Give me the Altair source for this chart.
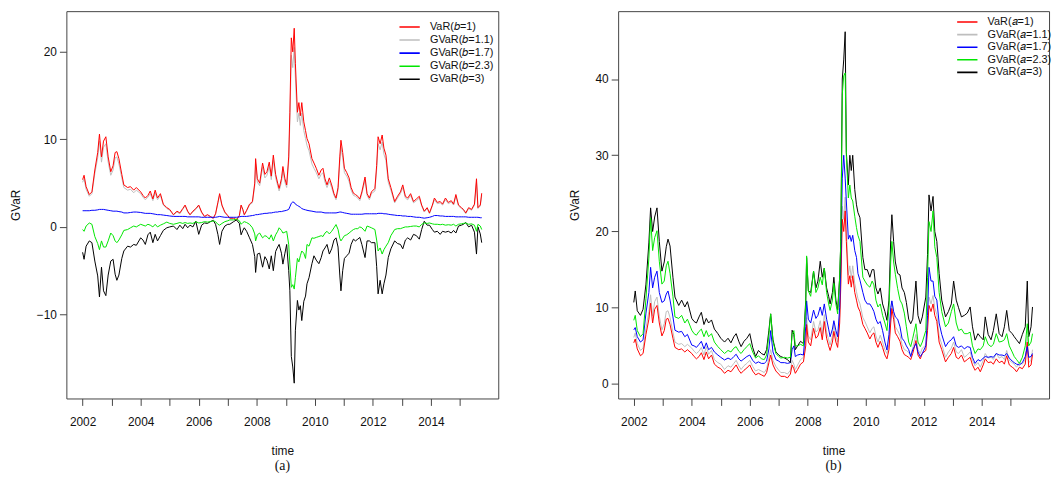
import altair as alt
import pandas as pd

# Observation dates (decimal years), shared by both panels
dates = [
    2002.00, 2002.05, 2002.12, 2002.23, 2002.32, 2002.42, 2002.52, 2002.58, 2002.65, 2002.72,
    2002.80, 2002.88, 2002.97, 2003.05, 2003.12, 2003.18, 2003.25, 2003.35, 2003.42, 2003.55,
    2003.65, 2003.76, 2003.85, 2004.00, 2004.08, 2004.16, 2004.25, 2004.33, 2004.42, 2004.50,
    2004.58, 2004.68, 2004.78, 2004.90, 2005.00, 2005.13, 2005.25, 2005.35, 2005.45, 2005.53,
    2005.62, 2005.70, 2005.80, 2005.90, 2006.00, 2006.10, 2006.20, 2006.30, 2006.40, 2006.50,
    2006.58, 2006.66, 2006.72, 2006.80, 2006.90, 2007.00, 2007.07, 2007.20, 2007.30, 2007.40,
    2007.46, 2007.52, 2007.57, 2007.65, 2007.75, 2007.85, 2007.93, 2007.96, 2008.02, 2008.10,
    2008.20, 2008.28, 2008.35, 2008.43, 2008.50, 2008.57, 2008.65, 2008.72, 2008.77, 2008.85,
    2008.90, 2008.97, 2009.03, 2009.10, 2009.14, 2009.19, 2009.24, 2009.29, 2009.33, 2009.40,
    2009.45, 2009.50, 2009.55, 2009.62, 2009.68, 2009.73, 2009.80, 2009.90, 2009.97, 2010.05,
    2010.14, 2010.22, 2010.28, 2010.35, 2010.42, 2010.50, 2010.58, 2010.66, 2010.73, 2010.80,
    2010.86, 2010.90, 2010.96, 2011.02, 2011.10, 2011.18, 2011.25, 2011.33, 2011.40, 2011.48,
    2011.55, 2011.62, 2011.73, 2011.80, 2011.88, 2011.95, 2012.07, 2012.13, 2012.18, 2012.25,
    2012.32, 2012.38, 2012.45, 2012.53, 2012.62, 2012.75, 2012.85, 2012.95, 2013.03, 2013.12,
    2013.20, 2013.30, 2013.40, 2013.50, 2013.60, 2013.68, 2013.77, 2013.87, 2013.95, 2014.05,
    2014.12, 2014.22, 2014.32, 2014.40, 2014.50, 2014.60, 2014.70, 2014.78, 2014.86, 2014.95,
    2015.05, 2015.12, 2015.20, 2015.30, 2015.40, 2015.50, 2015.57, 2015.62, 2015.70, 2015.75,
]

# Plain VaR (parameter = 1), common to both panels
var_1 = [
    5.4, 5.9, 4.6, 3.7, 4.0, 6.5, 8.5, 10.6, 8.0, 9.8,
    10.3, 8.0, 6.3, 7.0, 8.5, 8.6, 7.8, 6.0, 4.8, 4.5,
    4.6, 4.2, 4.5, 4.0, 3.6, 3.3, 3.6, 4.1, 3.2, 4.2,
    3.3, 3.8, 2.6, 2.2, 2.0, 1.4, 1.8, 1.6, 2.1, 2.5,
    1.8, 1.4, 1.8, 2.1, 2.5, 1.7, 1.2, 1.4, 1.2, 1.0,
    1.5, 2.8, 3.8, 2.5, 1.7, 1.3, 1.0, 1.0, 0.8, 1.3,
    2.5, 2.0, 1.4, 1.9, 2.6, 2.9, 5.0, 7.8, 5.5, 5.0,
    7.3, 6.0, 6.3, 7.4, 5.8, 8.2, 6.0, 5.0, 4.4, 5.5,
    6.9, 5.5, 4.8, 8.0, 13.1, 21.6, 20.0, 22.7, 18.7, 13.1,
    14.2, 12.7, 14.2, 12.0, 11.0, 10.1, 9.5, 7.8, 7.3, 6.7,
    5.9, 6.5, 6.7, 5.5, 4.8, 5.6, 4.8, 3.8, 3.3, 4.5,
    8.0, 9.9, 8.5, 6.7, 6.2, 5.6, 4.5, 3.85, 3.7, 3.5,
    3.2, 4.0, 5.7, 3.8, 3.3, 4.0, 4.4, 7.0, 10.3, 9.5,
    10.5, 9.0, 8.2, 5.5, 4.5, 2.9, 3.5, 4.0, 4.8, 3.5,
    3.3, 3.8, 2.9, 3.2, 3.5, 2.5, 1.8, 2.2, 1.6, 2.5,
    3.3, 2.8, 2.9, 2.6, 3.3, 2.8, 3.0, 2.6, 3.7, 2.5,
    2.2, 2.0, 1.6, 2.2, 2.0, 2.6, 5.5, 2.2, 2.5, 3.85,
]

# Panel (a): GVaR for b = 1.1, 1.7, 2.3, 3
gvar_b11 = [
    5.1, 5.5, 4.3, 3.5, 3.8, 6.1, 7.9, 9.8, 7.4, 9.1,
    9.5, 7.4, 5.9, 6.5, 7.9, 8.0, 7.2, 5.6, 4.5, 4.2,
    4.3, 3.9, 4.2, 3.8, 3.4, 3.1, 3.4, 3.8, 3.0, 3.9,
    3.1, 3.6, 2.5, 2.1, 1.9, 1.35, 1.7, 1.5, 2.0, 2.4,
    1.7, 1.35, 1.7, 2.0, 2.4, 1.6, 1.15, 1.35, 1.15, 0.95,
    1.45, 2.7, 3.6, 2.4, 1.6, 1.25, 0.95, 0.95, 0.75, 1.25,
    2.4, 1.9, 1.35, 1.8, 2.5, 2.75, 4.7, 7.2, 5.1, 4.7,
    6.8, 5.6, 5.9, 6.9, 5.4, 7.6, 5.6, 4.7, 4.1, 5.1,
    6.4, 5.1, 4.5, 7.4, 12.0, 19.6, 18.2, 20.5, 17.0, 12.0,
    13.0, 11.6, 13.0, 11.0, 10.1, 9.3, 8.7, 7.2, 6.7, 6.2,
    5.5, 6.0, 6.2, 5.1, 4.5, 5.2, 4.5, 3.6, 3.1, 4.2,
    7.4, 9.1, 7.9, 6.2, 5.8, 5.2, 4.2, 3.6, 3.5, 3.3,
    3.0, 3.8, 5.3, 3.6, 3.1, 3.8, 4.1, 6.5, 9.5, 8.8,
    9.7, 8.3, 7.6, 5.1, 4.2, 2.75, 3.3, 3.8, 4.5, 3.3,
    3.1, 3.6, 2.75, 3.0, 3.3, 2.4, 1.7, 2.1, 1.5, 2.4,
    3.1, 2.65, 2.75, 2.5, 3.1, 2.65, 2.85, 2.5, 3.5, 2.4,
    2.1, 1.9, 1.5, 2.1, 1.9, 2.5, 5.1, 2.1, 2.4, 3.6,
]
gvar_b17 = [
    1.85, 1.85, 1.85, 1.85, 1.9, 1.9, 1.95, 2.0, 2.0, 2.0,
    1.95, 1.9, 1.85, 1.8, 1.8, 1.8, 1.75, 1.7, 1.6, 1.6,
    1.65, 1.7, 1.7, 1.65, 1.6, 1.55, 1.55, 1.55, 1.5, 1.45,
    1.4, 1.4, 1.35, 1.3, 1.25, 1.2, 1.2, 1.2, 1.2, 1.2,
    1.15, 1.15, 1.15, 1.15, 1.15, 1.1, 1.1, 1.1, 1.1, 1.1,
    1.1, 1.15, 1.2, 1.15, 1.1, 1.1, 1.1, 1.1, 1.1, 1.15,
    1.2, 1.2, 1.2, 1.2, 1.25, 1.3, 1.35, 1.4, 1.4, 1.45,
    1.5, 1.55, 1.55, 1.6, 1.6, 1.65, 1.7, 1.7, 1.75, 1.75,
    1.8, 1.85, 1.9, 2.0, 2.3, 2.7, 2.85, 2.8, 2.6, 2.45,
    2.35, 2.25, 2.1, 2.0, 1.95, 1.9, 1.85, 1.8, 1.75, 1.7,
    1.7, 1.7, 1.65, 1.6, 1.6, 1.6, 1.6, 1.6, 1.6, 1.65,
    1.7, 1.7, 1.65, 1.6, 1.55, 1.5, 1.45, 1.45, 1.45, 1.45,
    1.45, 1.45, 1.5, 1.5, 1.5, 1.5, 1.5, 1.5, 1.55, 1.55,
    1.55, 1.5, 1.5, 1.45, 1.4, 1.35, 1.3, 1.3, 1.25, 1.25,
    1.2, 1.2, 1.15, 1.1, 1.1, 1.05, 1.0, 1.05, 1.1, 1.2,
    1.3, 1.3, 1.25, 1.25, 1.2, 1.2, 1.2, 1.2, 1.15, 1.15,
    1.15, 1.15, 1.15, 1.1, 1.1, 1.1, 1.1, 1.1, 1.05, 1.05,
]
gvar_b23 = [
    -0.3, -0.5, 0.1, 0.45, 0.3, -1.1, -1.9, -2.6, -1.6, -2.3,
    -2.3, -1.6, -0.7, -1.0, -1.6, -1.8, -1.5, -0.9, -0.4, -0.3,
    -0.1, 0.1, 0.0, 0.3, 0.2, 0.1, 0.3, 0.2, 0.0, 0.3,
    0.0, 0.2, 0.35, 0.55, 0.4, 0.3, 0.4, 0.5, 0.4, 0.5,
    0.4, 0.45, 0.4, 0.6, 0.45, 0.5, 0.6, 0.55, 0.6, 0.7,
    0.6, 0.3, 0.2, 0.4, 0.6, 0.7, 0.8, 0.8, 0.9, 0.7,
    0.3, 0.5, 0.6, 0.5, 0.3, -0.1, -0.8, -1.6, -0.9, -0.7,
    -1.25, -1.0, -1.1, -1.4, -0.9, -1.6, -0.9, -0.5, -0.1, -0.4,
    -0.7, -0.6, -0.5, -2.0, -4.25, -6.9, -6.6, -7.1, -5.8, -3.6,
    -4.0, -3.3, -2.75, -3.0, -3.6, -2.0, -2.2, -1.25, -1.3, -1.2,
    -1.1, -1.0, -1.1, -0.7, -0.5, -0.8, -0.5, -0.1, 0.27, -0.3,
    -1.3, -1.6, -1.3, -1.0, -0.9, -0.7, -0.5, -0.3, -0.2, -0.2,
    0.0, -0.1, -0.5, 0.1, 0.0, -0.1, -0.3, -1.5, -2.75, -2.4,
    -3.1, -2.6, -2.2, -1.8, -1.0, -0.3, -0.2, -0.2, -0.1, 0.0,
    0.0, 0.05, 0.1, 0.1, 0.0, 0.3, 0.45, 0.4, 0.45, 0.35,
    0.3, 0.3, 0.25, 0.3, 0.2, 0.25, 0.2, 0.3, 0.1, 0.3,
    0.35, 0.4, 0.45, 0.3, 0.35, 0.2, -0.5, 0.3, 0.1, -0.3,
]
gvar_b3 = [
    -2.9, -3.7, -2.2, -1.6, -1.8, -3.9, -5.6, -8.0, -4.6, -7.3,
    -7.85, -5.5, -3.9, -3.7, -5.4, -6.1, -5.5, -3.6, -2.75, -2.2,
    -2.3, -2.0, -2.1, -1.25, -1.5, -2.0, -0.9, -0.6, -1.8, -0.85,
    -1.6, -1.0, -0.4, -0.1, 0.0, 0.1, -0.3, 0.2, -0.2, 0.3,
    -0.1, 0.2, 0.0, 0.65, -0.85, 0.2, 0.45, 0.4, 0.6, 0.75,
    0.3, -0.85, -2.0, -0.5, 0.1, 0.3, 0.3, 0.6, 0.8, 0.4,
    -0.9, -0.4, -0.1, -0.5, -1.25, -2.0, -3.4, -5.2, -3.1, -3.0,
    -4.6, -3.4, -3.8, -4.8, -3.3, -5.0, -2.8, -2.3, -2.0, -3.0,
    -4.25, -3.0, -2.0, -5.0, -7.3, -14.8, -16.0, -17.85, -11.8, -8.4,
    -9.5, -9.0, -10.7, -8.5, -7.9, -6.5, -5.8, -4.2, -3.3, -3.8,
    -4.2, -3.5, -2.75, -2.4, -2.0, -3.1, -2.5, -1.5, -1.25, -2.3,
    -5.5, -7.3, -5.0, -3.6, -3.3, -3.0, -2.0, -1.4, -1.6, -1.4,
    -1.2, -2.0, -3.5, -1.6, -1.6, -1.8, -1.8, -4.5, -7.65, -6.1,
    -7.65, -6.5, -5.5, -3.5, -2.5, -1.6, -1.9, -2.0, -2.5, -1.5,
    -1.25, -1.5, -0.85, -1.0, -1.4, -0.3, 0.65, 0.2, 0.2, -0.3,
    -0.6, -0.5, -0.85, -0.5, -0.6, -0.5, -0.7, -0.4, -0.7, 0.1,
    0.2, 0.3, 0.5, 0.0, 0.2, -0.6, -3.1, 0.0, -0.8, -1.8,
]

# Panel (b): GVaR for a = 1.1, 1.7, 2.3, 3
gvar_a11 = [
    6.1, 6.7, 5.3, 4.4, 4.7, 7.3, 9.5, 11.7, 8.9, 10.8,
    11.4, 8.9, 7.1, 7.9, 9.5, 9.6, 8.7, 6.8, 5.5, 5.2,
    5.3, 4.9, 5.2, 4.7, 4.3, 4.0, 4.3, 4.8, 3.8, 4.9,
    3.9, 4.4, 3.2, 2.8, 2.6, 1.9, 2.4, 2.2, 2.7, 3.1,
    2.4, 1.9, 2.4, 2.7, 3.1, 2.3, 1.7, 1.9, 1.7, 1.5,
    2.0, 3.4, 4.5, 3.1, 2.3, 1.8, 1.5, 1.5, 1.3, 1.8,
    3.1, 2.6, 1.9, 2.5, 3.2, 3.5, 5.8, 8.7, 6.3, 5.8,
    8.2, 6.8, 7.1, 8.3, 6.6, 9.1, 6.8, 5.8, 5.1, 6.3,
    7.8, 6.3, 5.5, 8.9, 14.3, 23.3, 21.6, 24.5, 20.3, 14.3,
    15.5, 13.9, 15.5, 13.2, 12.1, 11.2, 10.5, 8.7, 8.2, 7.5,
    6.7, 7.3, 7.5, 6.3, 5.5, 6.4, 5.5, 4.5, 4.0, 5.2,
    8.9, 10.9, 9.5, 7.5, 7.0, 6.4, 5.2, 4.5, 4.4, 4.1,
    3.8, 4.7, 6.5, 4.5, 4.0, 4.7, 5.1, 7.9, 11.4, 10.5,
    11.6, 10.0, 9.1, 6.3, 5.2, 3.5, 4.2, 4.7, 5.5, 4.2,
    4.0, 4.5, 3.5, 3.8, 4.2, 3.1, 2.4, 2.8, 2.2, 3.1,
    4.0, 3.4, 3.5, 3.2, 4.0, 3.4, 3.6, 3.2, 4.4, 3.1,
    2.8, 2.6, 2.2, 2.8, 2.6, 3.2, 6.3, 2.8, 3.1, 4.5,
]
gvar_a17 = [
    7.1, 7.4, 6.2, 5.5, 5.8, 9.3, 12.0, 15.3, 12.6, 14.0,
    14.8, 12.0, 10.7, 10.9, 11.8, 12.2, 11.0, 8.8, 7.05, 6.8,
    6.9, 6.2, 6.5, 5.1, 5.0, 4.8, 5.2, 5.6, 4.6, 5.4,
    4.5, 4.8, 4.2, 3.8, 3.5, 3.15, 3.4, 3.2, 3.6, 3.9,
    3.3, 3.0, 3.3, 3.6, 3.8, 3.1, 2.7, 2.9, 2.7, 2.7,
    3.0, 4.6, 7.0, 4.2, 3.2, 3.0, 2.8, 2.8, 2.7, 2.8,
    4.5, 5.0, 3.6, 3.8, 3.9, 3.8, 7.5, 10.9, 8.5, 8.0,
    9.7, 8.6, 9.0, 10.1, 9.0, 10.5, 8.5, 7.2, 6.2, 7.2,
    8.3, 7.0, 6.2, 10.0, 16.0, 27.0, 30.0, 27.0, 24.0, 19.0,
    19.5, 18.7, 19.5, 17.5, 16.6, 14.5, 13.6, 12.0, 11.0, 10.5,
    10.5, 10.0, 9.5, 8.5, 7.9, 8.2, 7.0, 5.5, 4.45, 6.5,
    10.0, 10.9, 9.5, 8.8, 8.5, 7.5, 6.0, 5.6, 5.0, 4.5,
    3.6, 4.5, 5.3, 4.2, 3.6, 4.0, 5.0, 9.0, 15.3, 13.5,
    13.5, 11.5, 11.0, 8.0, 6.5, 4.9, 5.5, 5.8, 6.2, 5.0,
    4.8, 5.0, 4.6, 4.9, 4.8, 3.5, 2.7, 3.2, 3.0, 3.4,
    3.6, 3.5, 3.6, 3.5, 4.0, 3.8, 3.8, 3.7, 4.0, 3.4,
    3.0, 2.8, 2.6, 2.5, 2.8, 3.6, 4.9, 3.5, 3.6, 4.0,
]
gvar_a23 = [
    8.35, 9.0, 7.0, 6.2, 6.6, 11.2, 16.5, 21.8, 17.5, 19.2,
    20.1, 16.1, 13.1, 13.5, 15.5, 16.1, 14.5, 11.5, 8.8, 8.6,
    9.0, 8.0, 8.5, 7.05, 6.6, 6.4, 6.9, 7.2, 6.2, 7.0,
    6.2, 6.6, 5.5, 4.9, 4.5, 4.0, 4.4, 4.2, 4.7, 4.9,
    4.3, 4.0, 4.5, 4.9, 5.3, 4.2, 3.4, 3.7, 3.3, 3.2,
    3.8, 6.5, 9.2, 5.6, 4.0, 3.6, 3.4, 3.5, 3.4, 3.5,
    6.5, 7.0, 5.0, 5.0, 5.2, 5.0, 10.5, 16.8, 12.2, 11.5,
    14.8, 12.0, 12.6, 14.0, 13.0, 15.2, 12.0, 10.5, 9.65, 11.0,
    13.2, 10.5, 9.2, 14.0, 19.0, 38.0, 40.4, 40.8, 30.0, 24.4,
    26.1, 24.4, 24.0, 22.0, 20.5, 19.5, 18.7, 14.0, 13.5, 13.0,
    12.7, 13.5, 13.0, 11.0, 10.1, 10.5, 9.0, 8.0, 7.0, 10.0,
    16.0, 18.7, 16.0, 14.4, 12.5, 11.0, 10.5, 9.3, 7.5, 5.5,
    4.9, 6.0, 7.9, 5.5, 4.9, 5.5, 7.0, 14.0, 21.3, 20.0,
    22.7, 18.0, 16.6, 12.0, 9.5, 7.5, 8.0, 9.5, 10.5, 8.0,
    7.0, 7.2, 6.6, 6.6, 6.8, 5.0, 4.0, 4.6, 4.5, 5.0,
    6.2, 5.2, 4.9, 5.2, 6.6, 5.5, 5.6, 5.8, 6.6, 5.0,
    4.2, 3.6, 3.2, 2.7, 3.5, 5.0, 7.9, 5.0, 5.5, 6.6,
]
gvar_a3 = [
    10.7, 12.2, 9.6, 9.0, 9.8, 13.1, 18.5, 23.1, 20.0, 21.9,
    23.1, 18.7, 14.8, 16.0, 18.0, 19.0, 18.1, 14.0, 11.4, 10.3,
    11.0, 10.1, 10.8, 8.6, 8.2, 8.0, 8.8, 9.4, 7.8, 8.6,
    8.0, 8.4, 7.2, 6.6, 6.0, 5.5, 6.0, 5.4, 6.2, 6.6,
    5.6, 4.9, 5.6, 6.0, 6.6, 4.8, 3.6, 4.4, 4.0, 3.8,
    4.5, 7.05, 9.2, 5.8, 4.2, 3.8, 3.6, 3.4, 3.2, 2.8,
    7.05, 6.5, 4.5, 5.0, 5.6, 5.3, 11.0, 16.6, 12.2, 12.0,
    14.8, 12.6, 13.5, 16.1, 14.0, 15.2, 12.6, 11.5, 10.5, 12.0,
    14.0, 11.0, 9.7, 14.0, 18.7, 40.0, 42.5, 46.2, 30.4, 26.1,
    30.0, 28.0, 30.0, 25.5, 23.5, 22.5, 21.8, 16.6, 15.0, 15.0,
    14.0, 15.0, 15.0, 12.6, 11.8, 12.6, 10.5, 9.5, 8.35, 11.0,
    19.0, 22.2, 18.7, 16.0, 14.5, 14.3, 12.6, 12.0, 10.7, 8.5,
    7.9, 8.5, 13.5, 9.0, 7.9, 8.8, 11.4, 17.0, 24.8, 22.7,
    24.6, 20.0, 18.7, 14.5, 11.0, 8.8, 9.5, 10.5, 13.5, 11.0,
    10.0, 8.8, 9.0, 9.3, 10.1, 7.5, 5.75, 6.6, 6.2, 5.8,
    8.8, 6.5, 5.8, 7.0, 9.2, 6.6, 6.2, 7.5, 9.65, 7.0,
    6.6, 6.2, 5.8, 5.3, 6.5, 7.5, 13.5, 6.2, 7.5, 10.1,
]

COLORS = ["#ff0000", "#bebebe", "#0000ff", "#00e600", "#000000"]
FONT = "Liberation Sans"


def panel(names, series, draw_order, y_domain, y_ticks, x_domain, width,
          caption, legend_x, legend_y, row_padding):
    frame = pd.DataFrame({"time": dates})
    for name, values in zip(names, series):
        frame[name] = values
    long = frame.melt("time", var_name="series", value_name="GVaR")

    x = alt.X(
        "time:Q",
        scale=alt.Scale(domain=x_domain, nice=False, zero=False),
        axis=alt.Axis(
            values=list(range(2002, 2016)),
            labelExpr="datum.value % 2 == 0 ? format(datum.value, 'd') : ''",
            title="time",
            labelPadding=11,
            titlePadding=19,
        ),
    )
    y = alt.Y(
        "GVaR:Q",
        scale=alt.Scale(domain=y_domain, nice=False, zero=False),
        axis=alt.Axis(values=y_ticks, title="GVaR", labelPadding=3, titlePadding=14),
    )
    color = alt.Color(
        "series:N",
        scale=alt.Scale(domain=names, range=COLORS),
        legend=alt.Legend(
            title=None,
            orient="none",
            legendX=legend_x,
            legendY=legend_y,
            symbolType="stroke",
            symbolSize=420,
            symbolStrokeWidth=1.6,
            labelFont=FONT,
            labelFontSize=11,
            labelColor="#111",
            labelOffset=9,
            clipHeight=12,
            rowPadding=row_padding,
            padding=0,
        ),
    )
    layers = [
        alt.Chart(long)
        .transform_filter(alt.datum.series == name)
        .mark_line(strokeWidth=1)
        .encode(x=x, y=y, color=color)
        for name in draw_order
    ]
    return alt.layer(*layers).properties(
        width=width,
        height=391,
        title=alt.TitleParams(
            caption,
            orient="bottom",
            anchor="middle",
            frame="group",
            font="Liberation Serif",
            fontSize=14,
            fontWeight="normal",
            color="#111",
            offset=2,
        ),
    )


names_a = ["VaR(𝑏=1)", "GVaR(𝑏=1.1)", "GVaR(𝑏=1.7)", "GVaR(𝑏=2.3)", "GVaR(𝑏=3)"]
names_b = ["VaR(𝑎=1)", "GVaR(𝑎=1.1)", "GVaR(𝑎=1.7)", "GVaR(𝑎=2.3)", "GVaR(𝑎=3)"]

left = panel(
    names_a, [var_1, gvar_b11, gvar_b17, gvar_b23, gvar_b3],
    [names_a[1], names_a[0], names_a[2], names_a[4], names_a[3]],
    [-19.6, 24.65], [-10, 0, 10, 20], [2001.44, 2016.32], 436, "(a)", 335, 10, 1.2,
)
right = panel(
    names_b, [var_1, gvar_a11, gvar_a17, gvar_a23, gvar_a3],
    [names_b[1], names_b[0], names_b[2], names_b[4], names_b[3]],
    [-1.9, 48.9], [0, 10, 20, 30, 40], [2001.46, 2016.32], 435, "(b)", 341, 5, 0.7,
)

chart = (
    alt.hconcat(left, right, spacing=69)
    .resolve_scale(color="independent")
    .properties(padding={"left": 9, "top": 8, "right": 0, "bottom": 0})
    .configure_view(stroke="#444", strokeWidth=1)
    .configure_axis(
        grid=False,
        domain=False,
        ticks=True,
        tickSize=7,
        tickColor="#444",
        labelFont=FONT,
        labelFontSize=12,
        labelColor="#111",
        titleFont=FONT,
        titleFontSize=12,
        titleFontWeight="normal",
        titleColor="#111",
    )
    .configure_axisY(labelAngle=0)
)

chart.save("out.html", embed_options={"renderer": "svg", "actions": False})
